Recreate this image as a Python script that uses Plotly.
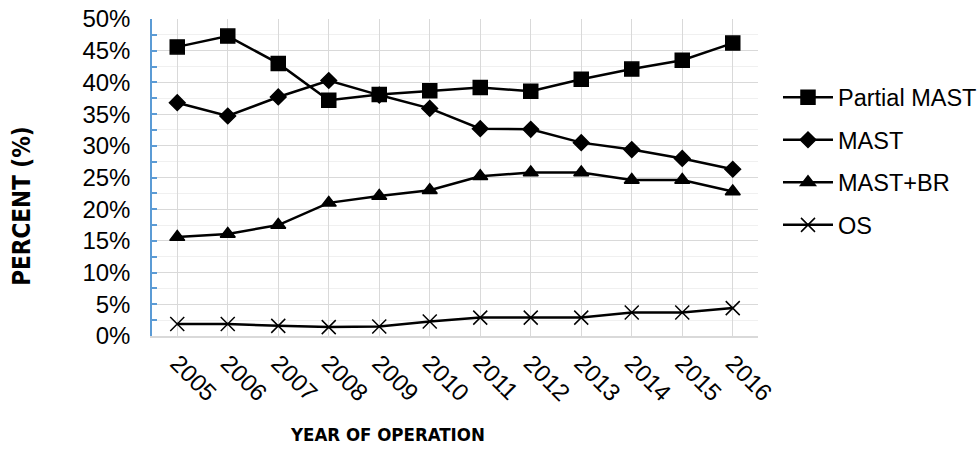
import plotly.graph_objects as go

years = ["2005", "2006", "2007", "2008", "2009", "2010", "2011", "2012", "2013", "2014", "2015", "2016"]
partial_mast = [45.6, 47.3, 43.0, 37.2, 38.1, 38.7, 39.2, 38.6, 40.5, 42.1, 43.5, 46.2]
mast = [36.8, 34.7, 37.7, 40.3, 38.0, 35.9, 32.7, 32.6, 30.5, 29.4, 28.0, 26.3]
mast_br = [15.6, 16.1, 17.5, 21.0, 22.1, 23.0, 25.2, 25.8, 25.8, 24.6, 24.6, 22.8]
os_vals = [1.9, 1.9, 1.6, 1.4, 1.5, 2.3, 2.9, 2.9, 2.9, 3.7, 3.7, 4.4]

series = [
    ("Partial MAST", partial_mast, "square", 14),
    ("MAST", mast, "diamond", 12),
    ("MAST+BR", mast_br, "triangle-up", 13),
    ("OS", os_vals, "x-thin-open", 14),
]

FONT = "Liberation Sans, Arial, sans-serif"
NARROW = "Liberation Sans Narrow, DejaVu Sans Condensed, Arial Narrow, sans-serif"

fig = go.Figure()
for i, (name, vals, sym, sz) in enumerate(series):
    fig.add_trace(go.Scatter(
        x=years, y=vals, name=name, mode="lines+markers",
        legendgroup=str(i),
        line=dict(color="black", width=2.5),
        marker=dict(symbol=sym, size=sz, color="black",
                    line=dict(color="black", width=1.5)),
    ))

fig.update_layout(
    width=979, height=451,
    margin=dict(l=152, r=221, t=19, b=115, autoexpand=False),
    paper_bgcolor="white", plot_bgcolor="white",
    font=dict(family=FONT, color="black", size=22),
    showlegend=True,
    legend=dict(x=1.033, xanchor="left", y=0.822, yanchor="top",
                font=dict(size=23.5, family=FONT), tracegroupgap=9,
                itemwidth=50, bgcolor="rgba(0,0,0,0)"),
    xaxis=dict(
        type="category", range=[-0.5, 11.5], automargin=False,
        showgrid=True, gridcolor="#d9d9d9", gridwidth=1,
        showline=True, linecolor="#d9d9d9", linewidth=1.5,
        ticks="", tickangle=45, tickfont=dict(size=24),
        ticklabelstandoff=2,
    ),
    yaxis=dict(
        range=[0, 50], dtick=5, ticksuffix="%", automargin=False,
        showgrid=True, gridcolor="#d9d9d9", gridwidth=1,
        zeroline=False,
        showline=True, linecolor="#5B9BD5", linewidth=1.5,
        ticks="inside", ticklen=5, tickcolor="#5B9BD5", tickwidth=1.5,
        tickfont=dict(size=24),
        ticklabelstandoff=15,
        minor=dict(dtick=2.5, showgrid=True, gridcolor="#f0f0f0",
                   ticks="inside", ticklen=5, tickcolor="#5B9BD5", tickwidth=1.5),
    ),
    annotations=[
        dict(text="<b>YEAR OF OPERATION</b>", xref="paper", yref="paper",
             x=0.389, y=-0.31, showarrow=False, font=dict(size=18.5, family=NARROW),
             xanchor="center", yanchor="middle"),
        dict(text="<b>PERCENT (%)</b>", xref="paper", yref="paper",
             x=-0.215, y=0.41, showarrow=False, textangle=-90,
             font=dict(size=24, family=NARROW), xanchor="center", yanchor="middle"),
    ],
)

fig.write_html(
    "out.html",
    config={"displayModeBar": False},
    post_script="document.body.style.margin='0px';document.body.style.overflow='hidden';",
)
